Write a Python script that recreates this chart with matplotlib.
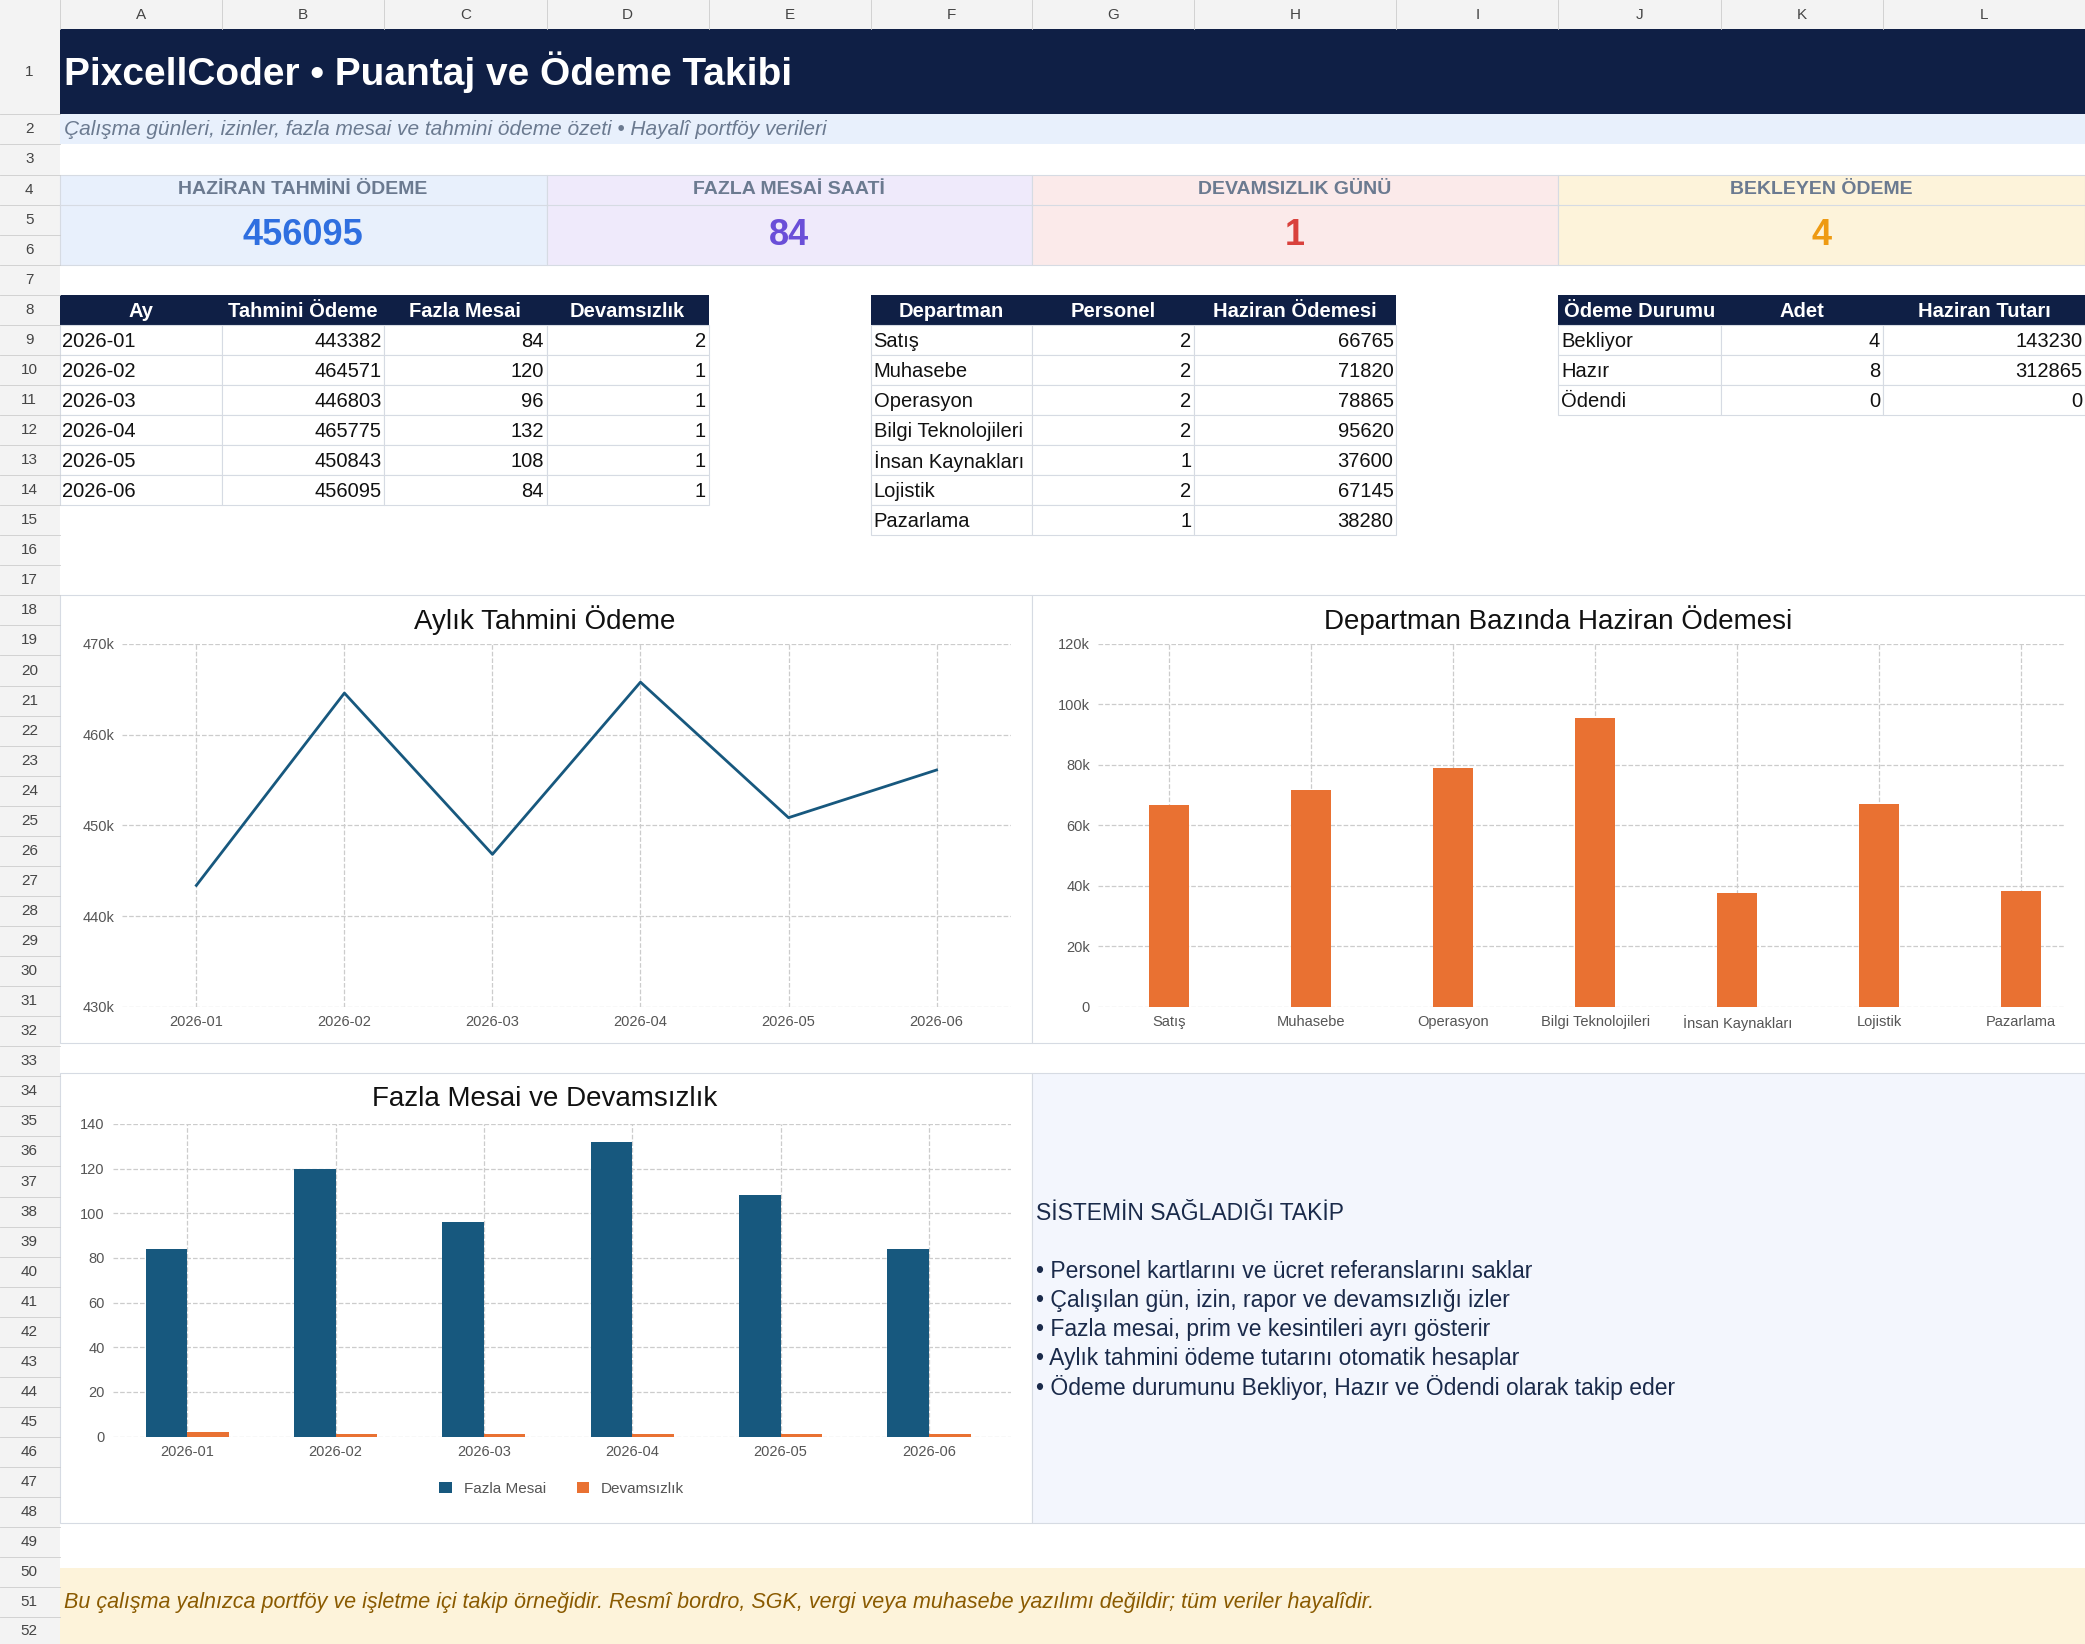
import numpy as np
import matplotlib.pyplot as plt
from matplotlib.patches import Rectangle

plt.rcParams['font.family'] = ['Liberation Sans', 'DejaVu Sans']

W, H = 1568, 1236  # layout units (scaled to output)
fig = plt.figure(figsize=(20.85, 16.44), dpi=100)
bg = fig.add_axes([0, 0, 1, 1])
bg.set_xlim(0, W)
bg.set_ylim(H, 0)
bg.axis('off')

cols = [45, 167, 289, 411, 533, 655, 776, 898, 1050, 1172, 1294, 1416, 1568]
letters = list('ABCDEFGHIJKL')
RH = 22.6


def rtop(n):
    return 22 if n == 1 else 86 + (n - 2) * RH


def rbot(n):
    return rtop(n + 1)


def box(x0, y0, x1, y1, fc, ec='none', lw=0.8, z=1):
    return bg.add_patch(Rectangle((x0, y0), x1 - x0, y1 - y0, fc=fc, ec=ec, lw=lw, zorder=z))


# sheet frame
box(0, 0, W, 22, '#f3f3f3', z=0)
box(0, 0, 45, H, '#f3f3f3', z=0)
for i, c in enumerate(letters):
    bg.text((cols[i] + cols[i + 1]) / 2, 11, c, ha='center', va='center', fontsize=11, color='#444')
for x in cols:
    bg.plot([x, x], [0, 22], color='#ccc', lw=0.6, zorder=2)
for n in range(1, 53):
    y0, y1 = rtop(n), min(rbot(n), H)
    bg.text(22, (y0 + y1) / 2, str(n), ha='center', va='center', fontsize=11, color='#444')
    bg.plot([0, 45], [y1, y1], color='#ccc', lw=0.6, zorder=2)

# title rows
box(45, rtop(1), W, rbot(1), '#0f1f45')
bg.text(48, (rtop(1) + rbot(1)) / 2, 'PixcellCoder • Puantaj ve Ödeme Takibi', color='white',
        fontsize=28, fontweight='bold', va='center')
box(45, rtop(2), W, rbot(2), '#e8f0fc')
bg.text(48, (rtop(2) + rbot(2)) / 2, 'Çalışma günleri, izinler, fazla mesai ve tahmini ödeme özeti • Hayalî portföy verileri',
        color='#6b7a90', fontsize=15, style='italic', va='center')

# KPI cards
kpis = [
    (45, 411, 'HAZİRAN TAHMİNİ ÖDEME', '456095', '#e8f0fc', '#2f6fe0'),
    (411, 776, 'FAZLA MESAİ SAATİ', '84', '#efeafb', '#6a4fd8'),
    (776, 1172, 'DEVAMSIZLIK GÜNÜ', '1', '#fbeaea', '#d9413c'),
    (1172, 1568, 'BEKLEYEN ÖDEME', '4', '#fdf3da', '#ee9a12'),
]
for x0, x1, lab, val, fc, vc in kpis:
    box(x0, rtop(4), x1, rbot(6), fc, ec='#d6dbe3')
    bg.plot([x0, x1], [rbot(4), rbot(4)], color='#d6dbe3', lw=0.8, zorder=2)
    bg.text((x0 + x1) / 2, (rtop(4) + rbot(4)) / 2, lab, ha='center', va='center',
            fontsize=14, fontweight='bold', color='#6b7a90')
    bg.text((x0 + x1) / 2, (rtop(5) + rbot(6)) / 2 + 1, val, ha='center', va='center',
            fontsize=26, fontweight='bold', color=vc)

# tables
months = ['2026-01', '2026-02', '2026-03', '2026-04', '2026-05', '2026-06']
payment = [443382, 464571, 446803, 465775, 450843, 456095]
overtime = [84, 120, 96, 132, 108, 84]
absence = [2, 1, 1, 1, 1, 1]
depts = ['Satış', 'Muhasebe', 'Operasyon', 'Bilgi Teknolojileri', 'İnsan Kaynakları', 'Lojistik', 'Pazarlama']
staff = [2, 2, 2, 2, 1, 2, 1]
dept_pay = [66765, 71820, 78865, 95620, 37600, 67145, 38280]
status = ['Bekliyor', 'Hazır', 'Ödendi']
cnt = [4, 8, 0]
amt = [143230, 312865, 0]


def table(cx, headers, rows, row0=8):
    for j, h in enumerate(headers):
        x0, x1 = cx[j], cx[j + 1]
        cell = box(x0, rtop(row0), x1, rbot(row0), '#0f1f45', z=1)
        t = bg.text((x0 + x1) / 2, (rtop(row0) + rbot(row0)) / 2 + 1, h, ha='center', va='center',
                    color='white', fontsize=14.5, fontweight='bold')
        t.set_clip_path(cell)
    for i, r in enumerate(rows):
        n = row0 + 1 + i
        for j, v in enumerate(r):
            x0, x1 = cx[j], cx[j + 1]
            cell = box(x0, rtop(n), x1, rbot(n), 'white', ec='#d6dbe3', z=1)
            ym = (rtop(n) + rbot(n)) / 2 + 1
            if isinstance(v, str):
                t = bg.text(x0 + 2, ym, v, ha='left', va='center', fontsize=14.5, color='#111')
            else:
                t = bg.text(x1 - 2, ym, str(v), ha='right', va='center', fontsize=14.5, color='#111')
            t.set_clip_path(cell)


table(cols[0:5], ['Ay', 'Tahmini Ödeme', 'Fazla Mesai', 'Devamsızlık'],
      list(zip(months, payment, overtime, absence)))
table(cols[5:9], ['Departman', 'Personel', 'Haziran Ödemesi'], list(zip(depts, staff, dept_pay)))
table(cols[9:13], ['Ödeme Durumu', 'Adet', 'Haziran Tutarı'], list(zip(status, cnt, amt)))


def add_ax(x0, y0, x1, y1):
    return fig.add_axes([x0 / W, 1 - y1 / H, (x1 - x0) / W, (y1 - y0) / H])


def kfmt(v, p):
    return '0' if v == 0 else f'{int(v / 1000)}k'


def style(ax):
    for s in ax.spines.values():
        s.set_visible(False)
    ax.tick_params(length=0, labelsize=10.5, colors='#555', pad=6)
    ax.grid(True, color='#cccccc', ls='--', lw=0.9)
    ax.set_axisbelow(True)


# chart frames
for x0, y0, x1, y1 in [(45, 447, 776, 784), (776, 447, 1568, 784), (45, 807, 776, 1145)]:
    box(x0, y0, x1, y1, 'white', ec='#d6dbe3')
box(776, 807, 1568, 1145, '#f3f6fd', ec='#d6dbe3')

# line chart
ax1 = add_ax(92, 484, 760, 757)
ax1.plot(months, payment, color='#17587e', lw=2)
ax1.set_ylim(430000, 470000)
ax1.set_yticks(range(430000, 470001, 10000))
ax1.yaxis.set_major_formatter(kfmt)
ax1.set_xlim(-0.5, 5.5)
style(ax1)
bg.text(410, 466, 'Aylık Tahmini Ödeme', ha='center', va='center', fontsize=20, color='#111')

# department bars
ax2 = add_ax(826, 484, 1552, 757)
ax2.bar(depts, dept_pay, color='#e97132', width=0.28)
ax2.set_ylim(0, 120000)
ax2.set_yticks(range(0, 120001, 20000))
ax2.yaxis.set_major_formatter(kfmt)
ax2.set_xlim(-0.5, 6.3)
style(ax2)
bg.text(1172, 466, 'Departman Bazında Haziran Ödemesi', ha='center', va='center', fontsize=20, color='#111')

# overtime / absence
ax3 = add_ax(85, 845, 760, 1080)
x = np.arange(len(months))
ax3.bar(x - 0.14, overtime, width=0.28, color='#17587e', label='Fazla Mesai')
ax3.bar(x + 0.14, absence, width=0.28, color='#e97132', label='Devamsızlık')
ax3.set_xticks(x, months)
ax3.set_ylim(0, 140)
ax3.set_yticks(range(0, 141, 20))
ax3.set_xlim(-0.5, 5.55)
style(ax3)
ax3.legend(loc='upper center', bbox_to_anchor=(0.5, -0.1), ncol=2, frameon=False, fontsize=11,
           handlelength=0.8, handleheight=0.8, labelcolor='#555')
bg.text(410, 826, 'Fazla Mesai ve Devamsızlık', ha='center', va='center', fontsize=20, color='#111')

# info panel
bg.text(779, 912, 'SİSTEMİN SAĞLADIĞI TAKİP', fontsize=16.5, color='#1a2a4a', va='center')
items = ['Personel kartlarını ve ücret referanslarını saklar',
         'Çalışılan gün, izin, rapor ve devamsızlığı izler',
         'Fazla mesai, prim ve kesintileri ayrı gösterir',
         'Aylık tahmini ödeme tutarını otomatik hesaplar',
         'Ödeme durumunu Bekliyor, Hazır ve Ödendi olarak takip eder']
for i, t in enumerate(items):
    bg.text(779, 956 + i * 21.7, '• ' + t, fontsize=16.5, color='#1a2a4a', va='center')

# footer
box(45, rtop(50) + 8, W, H, '#fdf3da')
bg.text(48, (rtop(51) + rbot(51)) / 2, 'Bu çalışma yalnızca portföy ve işletme içi takip örneğidir. Resmî bordro, SGK, vergi veya muhasebe yazılımı değildir; tüm veriler hayalîdir.',
        fontsize=15.5, style='italic', color='#8a5a00', va='center')

fig.savefig('out.png', dpi=100)
